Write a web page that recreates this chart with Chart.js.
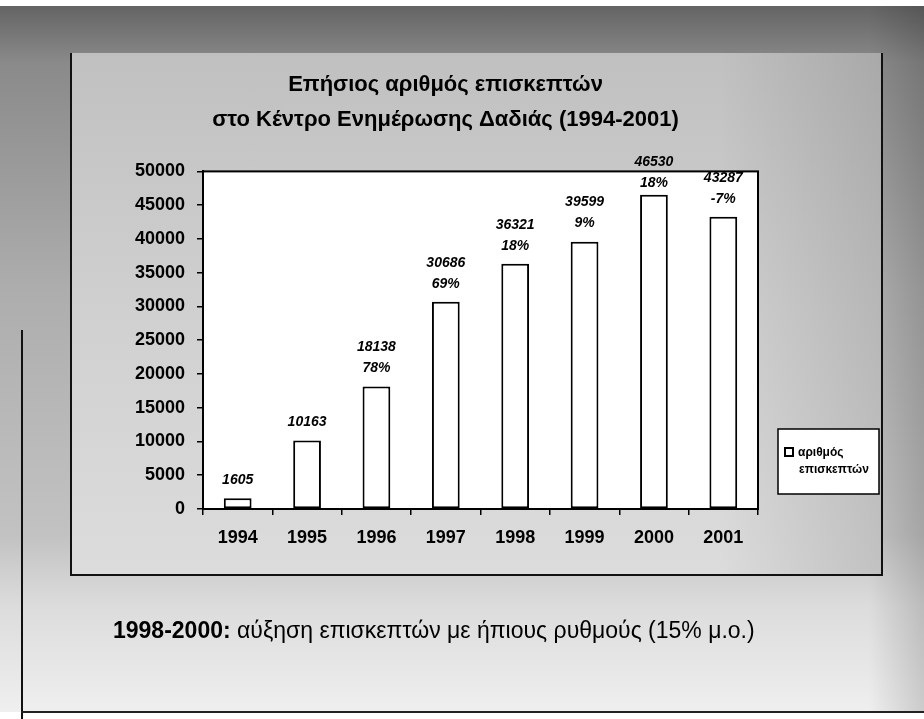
<!DOCTYPE html>
<html>
<head>
<meta charset="utf-8">
<script src="https://cdn.jsdelivr.net/npm/chart.js@4.4.1/dist/chart.umd.min.js"></script>
<style>
  html, body { margin: 0; padding: 0; }
  body {
    width: 924px; height: 719px; position: relative; overflow: hidden;
    background: #fff;
    font-family: 'Liberation Sans', Arial, sans-serif;
  }
  /* slide backdrop (scanned, speckled grey) */
  #slide {
    position: absolute; left: 0; top: 6px; width: 924px; height: 706px;
    background:
      linear-gradient(to right, rgba(0,0,0,0) 94%, rgba(0,0,0,0.15) 100%),
      linear-gradient(to bottom, #646464 0%, #8a8a8a 8%, #adadad 40%, #c2c2c2 75%, #dcdcdc 85%, #efefef 100%);
  }
  #leftLine { position: absolute; left: 21px; top: 330px; width: 2px; height: 389px; background: #111; }
  #bottomLine { position: absolute; left: 21px; top: 711px; width: 903px; height: 2px; background: #222; }
  /* chart object frame */
  #frame {
    position: absolute; left: 70px; top: 53px; width: 809px; height: 521px;
    border-left: 2px solid #111; border-bottom: 2px solid #111; border-right: 2px solid #111;
    background:
      linear-gradient(to right, rgba(0,0,0,0) 80%, rgba(0,0,0,0.12) 100%),
      linear-gradient(to bottom, #c0c0c0 0%, #d0d0d0 50%, #dcdcdc 100%);
  }
  #wrap { position: absolute; left: 0; top: 0; width: 924px; height: 719px; }
  #note {
    position: absolute; left: 113px; top: 617px;
    font-size: 23px; line-height: 26px; color: #000; white-space: nowrap;
  }
  #note b { font-weight: bold; }
</style>
</head>
<body>
<div id="slide"></div>
<div id="leftLine"></div>
<div id="bottomLine"></div>
<div id="frame"></div>
<div id="wrap"><canvas id="visitorsChart" width="924" height="719"></canvas></div>
<div id="note"><b>1998-2000:</b> αύξηση επισκεπτών με ήπιους ρυθμούς (15% μ.ο.)</div>

<script>
// --- chart data ---
const years = ['1994', '1995', '1996', '1997', '1998', '1999', '2000', '2001'];
const visitors = [1605, 10163, 18138, 30686, 36321, 39599, 46530, 43287];
const growthPct = [null, null, 78, 69, 18, 9, 18, -7];   // yearly change shown above bars
const titleLines = ['Επήσιος αριθμός επισκεπτών', 'στο Κέντρο Ενημέρωσης Δαδιάς (1994-2001)'];
const seriesLabel = 'αριθμός επισκεπτών';

const FONT = "'Liberation Sans', Arial, sans-serif";

// white plot area + black border round it
const plotFrame = {
  id: 'plotFrame',
  beforeDraw(chart) {
    const { ctx, chartArea: a } = chart;
    ctx.save();
    ctx.fillStyle = '#fff';
    ctx.fillRect(a.left, a.top, a.right - a.left, a.bottom - a.top);
    ctx.restore();
  },
  afterDatasetsDraw(chart) {
    const { ctx, chartArea: a } = chart;
    ctx.save();
    ctx.strokeStyle = '#000';
    ctx.lineWidth = 2;
    ctx.strokeRect(a.left, a.top, a.right - a.left, a.bottom - a.top);
    ctx.restore();
  }
};

// value + percentage above each bar
const barLabels = {
  id: 'barLabels',
  afterDatasetsDraw(chart) {
    const { ctx } = chart;
    const meta = chart.getDatasetMeta(0);
    ctx.save();
    ctx.fillStyle = '#000';
    ctx.textAlign = 'center';
    ctx.textBaseline = 'middle';
    ctx.font = 'italic bold 14px ' + FONT;
    meta.data.forEach((bar, i) => {
      const p = growthPct[i];
      if (p === null) {
        ctx.fillText(String(visitors[i]), bar.x, bar.y - 18);
      } else {
        let top = bar.y - 39;
        if (top < 162) top = 162;   // keep inside frame near the top
        ctx.fillText(String(visitors[i]), bar.x, top);
        ctx.fillText(p + '%', bar.x, Math.min(top + 21, bar.y - 10));
      }
    });
    ctx.restore();
  }
};

// boxed legend at right, flush with the frame
const boxLegend = {
  id: 'boxLegend',
  afterDraw(chart) {
    const { ctx } = chart;
    const x = 778, y = 429, w = 101, h = 65;
    ctx.save();
    ctx.fillStyle = '#fff';
    ctx.fillRect(x, y, w, h);
    ctx.strokeStyle = '#000';
    ctx.lineWidth = 1.5;
    ctx.strokeRect(x, y, w, h);
    // marker
    ctx.lineWidth = 2;
    ctx.strokeRect(x + 7, y + 19, 8, 8);
    ctx.fillStyle = '#000';
    ctx.font = 'bold 12px ' + FONT;
    ctx.textBaseline = 'middle';
    ctx.textAlign = 'left';
    const words = seriesLabel.split(' ');
    ctx.fillText(words[0], x + 20, y + 24);
    ctx.fillText(words[1], x + 21, y + 41);
    ctx.restore();
  }
};

const ctx = document.getElementById('visitorsChart').getContext('2d');
new Chart(ctx, {
  type: 'bar',
  data: {
    labels: years,
    datasets: [{
      label: seriesLabel,
      data: visitors,
      backgroundColor: '#fff',
      borderColor: '#000',
      borderWidth: 2,
      borderSkipped: false,
      barPercentage: 0.4,
      categoryPercentage: 1.0
    }]
  },
  options: {
    responsive: false,
    animation: false,
    layout: { padding: { left: 133, right: 166, top: 67, bottom: 165 } },
    plugins: {
      legend: { display: false },
      tooltip: { enabled: false },
      title: {
        display: true,
        text: titleLines,
        color: '#000',
        font: { family: FONT, size: 22, weight: 'bold', lineHeight: 1.6 },
        padding: { top: 0, bottom: 34 }
      }
    },
    scales: {
      x: {
        grid: { display: true, drawOnChartArea: false, offset: true, tickLength: 6, color: '#000', lineWidth: 1.5 },
        border: { display: true, color: '#000', width: 2 },
        ticks: { color: '#000', padding: 12, font: { family: FONT, size: 18, weight: 'bold' } },
        afterFit: s => { s.height = 45; }
      },
      y: {
        min: 0,
        max: 50000,
        grid: { display: true, drawOnChartArea: false, tickLength: 6, color: '#000', lineWidth: 1.5 },
        border: { display: true, color: '#000', width: 2 },
        ticks: {
          stepSize: 5000,
          color: '#000',
          padding: 12,
          font: { family: FONT, size: 18, weight: 'bold' },
          callback: v => String(v)
        },
        afterFit: s => { s.width = 70; }
      }
    }
  },
  plugins: [plotFrame, barLabels, boxLegend]
});
</script>
</body>
</html>
